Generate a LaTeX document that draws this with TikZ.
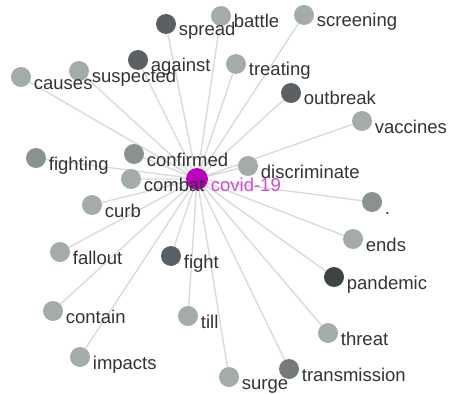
\documentclass[tikz,border=0pt]{standalone}
\usepackage{fontspec}
\setmainfont{Liberation Sans}
\usepackage{tikz}
\usetikzlibrary{positioning,calc}
\pgfdeclarelayer{myback}
\pgfsetlayers{myback,main}
\definecolor{nlt}{HTML}{A3ACAB}
\definecolor{nmd}{HTML}{8A9291}
\definecolor{nmd2}{HTML}{747B7A}
\definecolor{ndk}{HTML}{5A6063}
\definecolor{nvdk}{HTML}{3E4444}
\definecolor{txt}{HTML}{333333}
\definecolor{ctr}{HTML}{BB00BB}
\definecolor{ctrtxt}{HTML}{D04BD0}
\definecolor{edg}{HTML}{DADADA}
\tikzset{
  wn/.style   = { circle, minimum size=20pt, inner sep=0pt, fill=#1 },
  cn/.style   = { circle, minimum size=22pt, inner sep=0pt, fill=ctr },
  wl/.style   = { inner sep=0pt, text=txt, anchor=base west,
    font=\fontsize{18.5}{18.5}\selectfont, at={($(#1.east)+(2.5,12)$)} },
  edge/.style = { draw=edg, line width=1.4pt }
}

\begin{document}
\begin{tikzpicture}[x=1pt,y=-1pt]
    \useasboundingbox (0,0) rectangle (449,393);
    \node[cn] (c) at (197,179) {};
    % words round covid-19
    \node[wn=ndk]  (spread)       at (166,24)  {};
    \node[wn=nlt]  (battle)       at (221,16)  {};
    \node[wn=nlt]  (screening)    at (304,15)  {};
    \node[wn=nlt]  (treating)     at (236,64)  {};
    \node[wn=ndk]  (outbreak)     at (291,93)  {};
    \node[wn=nlt]  (vaccines)     at (362,121) {};
    \node[wn=nlt]  (discriminate) at (248,166) {};
    \node[wn=ndk]  (against)      at (138,60)  {};
    \node[wn=nlt]  (suspected)    at (79,71)   {};
    \node[wn=nlt]  (causes)       at (21,77)   {};
    \node[wn=nmd]  (fighting)     at (36,158)  {};
    \node[wn=nmd]  (confirmed)    at (134,154) {};
    \node[wn=nlt]  (combat)       at (131,179) {};
    \node[wn=nlt]  (curb)         at (92,205)  {};
    \node[wn=nlt]  (fallout)      at (60,252)  {};
    \node[wn=ndk]  (fight)        at (171,256) {};
    \node[wn=nlt]  (contain)      at (53,311)  {};
    \node[wn=nlt]  (till)         at (188,316) {};
    \node[wn=nlt]  (impacts)      at (80,357)  {};
    \node[wn=nlt]  (surge)        at (229,377) {};
    \node[wn=nmd2] (transmission) at (289,369) {};
    \node[wn=nlt]  (threat)       at (328,333) {};
    \node[wn=nvdk] (pandemic)     at (334,277) {};
    \node[wn=nlt]  (ends)         at (353,239) {};
    \node[wn=nmd]  (dot)          at (372,202) {};
    % labels
    \node[wl=spread]       (spread-l)       {spread};
    \node[wl=battle]       (battle-l)       {battle};
    \node[wl=screening]    (screening-l)    {screening};
    \node[wl=treating]     (treating-l)     {treating};
    \node[wl=outbreak]     (outbreak-l)     {outbreak};
    \node[wl=vaccines]     (vaccines-l)     {vaccines};
    \node[wl=discriminate] (discriminate-l) {discriminate};
    \node[wl=suspected]    (suspected-l)    {suspected};
    \node[wl=against]      (against-l)      {against};
    \node[wl=causes]       (causes-l)       {causes};
    \node[wl=fighting]     (fighting-l)     {fighting};
    \node[wl=confirmed]    (confirmed-l)    {confirmed};
    \node[wl=combat]       (combat-l)       {combat};
    \node[wl=curb]         (curb-l)         {curb};
    \node[wl=fallout]      (fallout-l)      {fallout};
    \node[wl=fight]        (fight-l)        {fight};
    \node[wl=contain]      (contain-l)      {contain};
    \node[wl=till]         (till-l)         {till};
    \node[wl=impacts]      (impacts-l)      {impacts};
    \node[wl=surge]        (surge-l)        {surge};
    \node[wl=transmission] (transmission-l) {transmission};
    \node[wl=threat]       (threat-l)       {threat};
    \node[wl=pandemic]     (pandemic-l)     {pandemic};
    \node[wl=ends]         (ends-l)         {ends};
    \node[wl=dot]          (dot-l)          {.};
    \node[wl=c, text=ctrtxt] (c-l) {covid-19};
    \begin{pgfonlayer}{myback}
    \draw[edge] (c) -- (spread)   (c) -- (battle)   (c) -- (screening)
                (c) -- (treating) (c) -- (outbreak) (c) -- (vaccines)
                (c) -- (discriminate) (c) -- (against) (c) -- (suspected)
                (c) -- (causes)   (c) -- (fighting) (c) -- (confirmed)
                (c) -- (combat)   (c) -- (curb)     (c) -- (fallout)
                (c) -- (fight)    (c) -- (contain)  (c) -- (till)
                (c) -- (impacts)  (c) -- (surge)    (c) -- (transmission)
                (c) -- (threat)   (c) -- (pandemic) (c) -- (ends)
                (c) -- (dot);
    \end{pgfonlayer}
  \end{tikzpicture}
\end{document}
